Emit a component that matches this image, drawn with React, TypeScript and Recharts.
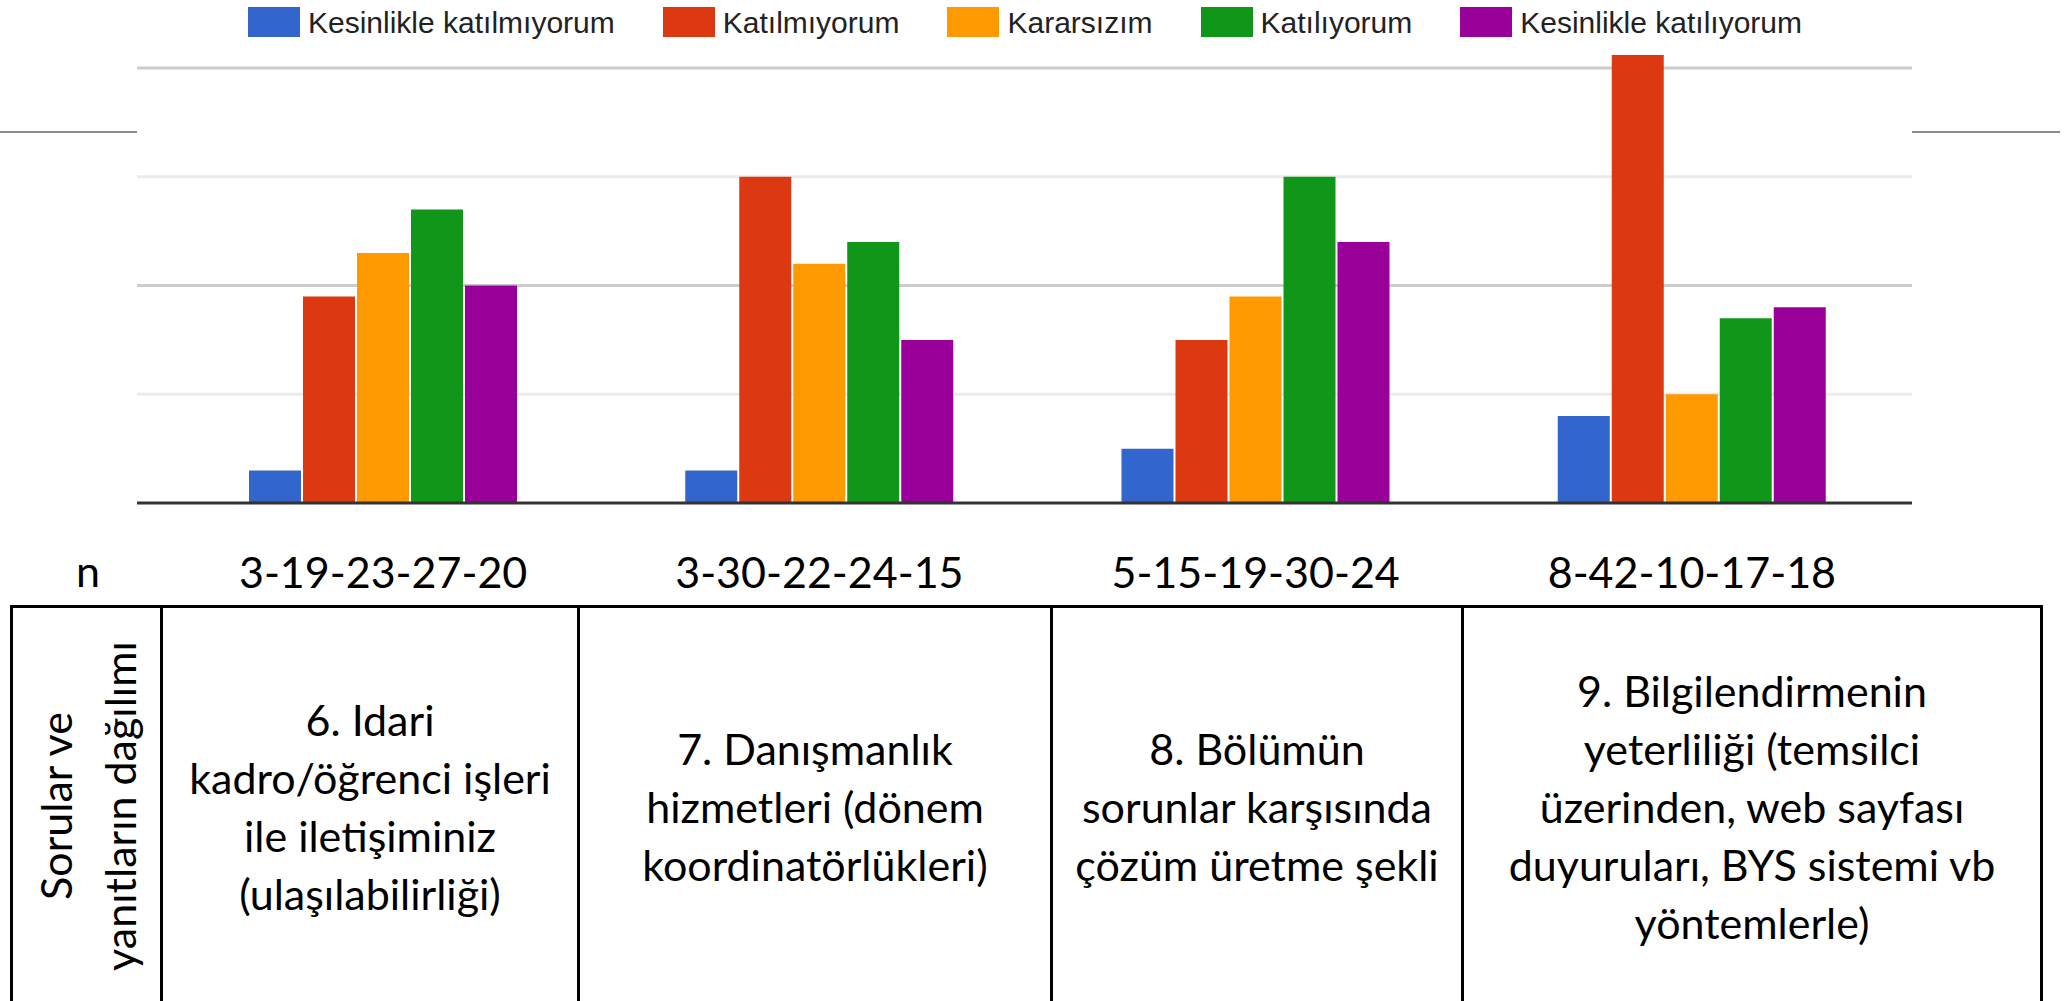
import React from 'react';
import { BarChart, Bar, XAxis, YAxis, CartesianGrid } from 'recharts';

// answer counts per question, one array per answer option
const kesinlikleKatilmiyorum = [3, 3, 5, 8];
const katilmiyorum = [19, 30, 15, 42];
const kararsizim = [23, 22, 19, 10];
const katiliyorum = [27, 24, 30, 17];
const kesinlikleKatiliyorum = [20, 15, 24, 18];

const nLabels = ['3-19-23-27-20', '3-30-22-24-15', '5-15-19-30-24', '8-42-10-17-18'];

const questions = [
  ['6. Idari', 'kadro/öğrenci işleri', 'ile iletişiminiz', '(ulaşılabilirliği)'],
  ['7. Danışmanlık', 'hizmetleri (dönem', 'koordinatörlükleri)'],
  ['8. Bölümün', 'sorunlar karşısında', 'çözüm üretme şekli'],
  ['9. Bilgilendirmenin', 'yeterliliği (temsilci', 'üzerinden, web sayfası', 'duyuruları, BYS sistemi vb', 'yöntemlerle)'],
];

const sideHeader = ['Sorular ve', 'yanıtların dağılımı'];

const SERIES = [
  { key: 'k1', name: 'Kesinlikle katılmıyorum', color: '#3366cc', values: kesinlikleKatilmiyorum },
  { key: 'k2', name: 'Katılmıyorum', color: '#dc3912', values: katilmiyorum },
  { key: 'k3', name: 'Kararsızım', color: '#ff9900', values: kararsizim },
  { key: 'k4', name: 'Katılıyorum', color: '#109618', values: katiliyorum },
  { key: 'k5', name: 'Kesinlikle katılıyorum', color: '#990099', values: kesinlikleKatiliyorum },
];

const data = nLabels.map((n, i) => {
  const row: Record<string, string | number> = { n };
  SERIES.forEach((s) => {
    row[s.key] = s.values[i];
  });
  return row;
});

// table column edges (px)
const COL_EDGES = [10, 160, 577, 1050, 1461, 2040];
const TABLE_TOP = 605;
const CELL_FONT = 'Lato, "Open Sans", sans-serif';

function NTick(props: any) {
  const { x, y, payload } = props;
  return (
    <text x={x} y={y} dy={85} textAnchor="middle" fontFamily={CELL_FONT} fontSize={43} fill="#000">
      {payload.value}
    </text>
  );
}

function ChartLegend() {
  return (
    <div style={{ position: 'absolute', top: 7, left: 248, display: 'flex', alignItems: 'flex-start' }}>
      {SERIES.map((s) => (
        <div key={s.key} style={{ display: 'flex', alignItems: 'flex-start', marginRight: 48 }}>
          <div style={{ width: 52, height: 30, background: s.color }} />
          <span
            style={{
              marginLeft: 8,
              fontFamily: '"Liberation Sans", Arial, sans-serif',
              fontSize: 30,
              lineHeight: '30px',
              color: '#222',
              whiteSpace: 'nowrap',
              marginTop: 1,
            }}
          >
            {s.name}
          </span>
        </div>
      ))}
    </div>
  );
}

function QuestionTable() {
  const lineStyle: React.CSSProperties = { position: 'absolute', background: '#000' };
  return (
    <>
      <div style={{ ...lineStyle, left: COL_EDGES[0], top: TABLE_TOP, width: COL_EDGES[5] - COL_EDGES[0] + 3, height: 3 }} />
      {COL_EDGES.map((x) => (
        <div key={x} style={{ ...lineStyle, left: x, top: TABLE_TOP, width: 3, height: 1001 - TABLE_TOP }} />
      ))}
      {questions.map((lines, i) => (
        <div
          key={i}
          style={{
            position: 'absolute',
            left: COL_EDGES[i + 1] + 3,
            width: COL_EDGES[i + 2] - COL_EDGES[i + 1] - 3,
            top: TABLE_TOP + 3,
            height: 1001 - TABLE_TOP - 3,
            display: 'flex',
            flexDirection: 'column',
            justifyContent: 'center',
            alignItems: 'center',
            fontFamily: CELL_FONT,
            fontSize: 43,
            lineHeight: '58px',
            color: '#000',
            textAlign: 'center',
            paddingTop: 4,
            boxSizing: 'border-box',
          }}
        >
          {lines.map((l) => (
            <div key={l} style={{ whiteSpace: 'nowrap' }}>{l}</div>
          ))}
        </div>
      ))}
      <div
        style={{
          position: 'absolute',
          left: 88,
          top: 806,
          width: 395,
          height: 140,
          transform: 'translate(-50%, -50%) rotate(-90deg)',
          display: 'flex',
          flexDirection: 'column',
          justifyContent: 'center',
          alignItems: 'center',
          fontFamily: CELL_FONT,
          fontSize: 43,
          lineHeight: '64px',
          color: '#000',
        }}
      >
        {sideHeader.map((l) => (
          <div key={l} style={{ whiteSpace: 'nowrap' }}>{l}</div>
        ))}
      </div>
      <div
        style={{
          position: 'absolute',
          left: 68,
          width: 40,
          top: 542,
          textAlign: 'center',
          fontFamily: CELL_FONT,
          fontSize: 43,
          lineHeight: '58px',
          color: '#000',
        }}
      >
        n
      </div>
    </>
  );
}

export default function App() {
  return (
    <div style={{ position: 'absolute', left: 0, top: 0, width: 2070, height: 1001, background: '#fff', overflow: 'hidden' }}>
      <div style={{ position: 'absolute', left: 0, top: 131, width: 137, height: 2, background: '#8c8c8c' }} />
      <div style={{ position: 'absolute', left: 1912, top: 131, width: 148, height: 2, background: '#8c8c8c' }} />
      <div style={{ position: 'absolute', left: 0, top: 0 }}>
        <BarChart
          width={2070}
          height={603}
          data={data}
          margin={{ top: 55, right: 158, bottom: 0, left: 137 }}
          barGap={2}
        >
          <CartesianGrid vertical={false} horizontalValues={[10, 30]} stroke="#ebebeb" strokeWidth={3} />
          <CartesianGrid vertical={false} horizontalValues={[20, 40]} stroke="#cccccc" strokeWidth={3} />
          <YAxis hide domain={[0, 41.2]} allowDataOverflow ticks={[0, 10, 20, 30, 40]} />
          <XAxis
            dataKey="n"
            height={100}
            interval={0}
            tickLine={false}
            tickSize={0}
            tickMargin={0}
            axisLine={{ stroke: '#333', strokeWidth: 3 }}
            padding={{ left: 28, right: 2 }}
            tick={<NTick />}
          />
          {SERIES.map((s) => (
            <Bar key={s.key} dataKey={s.key} name={s.name} fill={s.color} barSize={52} isAnimationActive={false} />
          ))}
        </BarChart>
      </div>
      <ChartLegend />
      <QuestionTable />
    </div>
  );
}
